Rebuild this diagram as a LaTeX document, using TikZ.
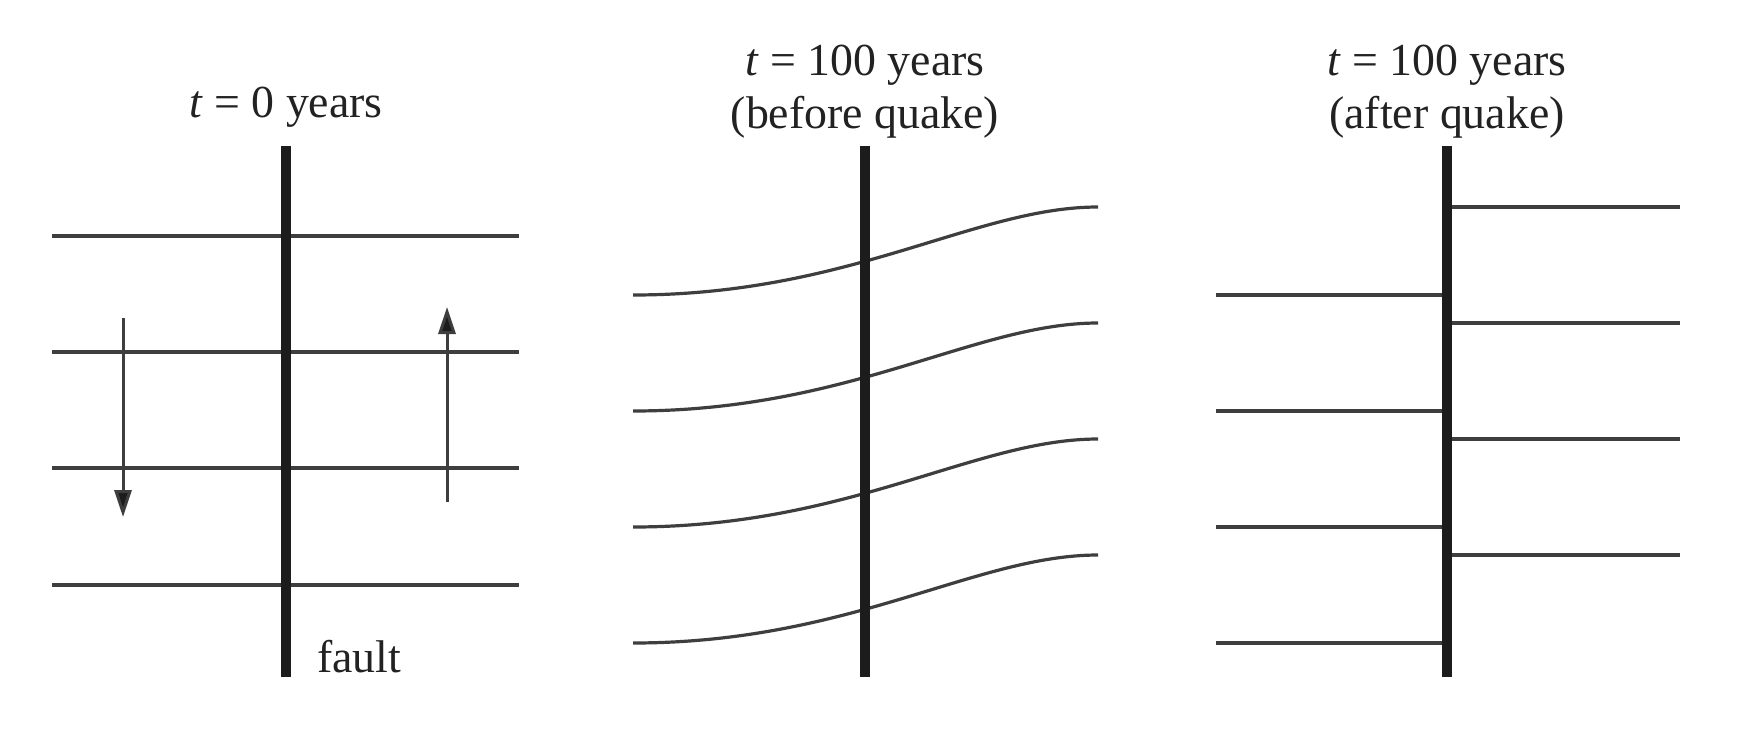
\documentclass[tikz,border=0pt]{standalone}
\usepackage{fontspec}
\setmainfont{Liberation Serif}
\usetikzlibrary{arrows.meta}
\definecolor{linegray}{RGB}{62,62,62}
\definecolor{faultblack}{RGB}{28,28,28}
\definecolor{textgray}{RGB}{34,34,34}
\begin{document}
\begin{tikzpicture}[x=1bp,y=-1bp,
  layer/.style={line width=3.2bp, draw=linegray},
  faultline/.style={line width=10bp, draw=faultblack},
  motion/.style={line width=3bp, draw=linegray, -{Triangle[length=27bp,width=17bp,fill=faultblack]}},
  lbl/.style={font=\fontsize{46}{52}\selectfont, text=textgray, inner sep=0pt, anchor=base}]
\useasboundingbox[fill=white] (0,0) rectangle (1760,748);

% ---------- panel 1 ----------
\foreach \y in {236,352,468,585}{
  \draw[layer] (52,\y) -- (519,\y);
}
\coordinate (d1) at (123,318);
\coordinate (d2) at (123,517);
\coordinate (u1) at (447,502);
\coordinate (u2) at (447,307);
\draw[motion] (d1) -- (d2);
\draw[motion] (u1) -- (u2);
\coordinate (f1t) at (286,146);
\coordinate (f1b) at (286,677);
\draw[faultline] (f1t) -- (f1b);
\node[lbl] (t1) at (286,117) {\textit{t} = 0 years};
\node[lbl, anchor=base west] (flt) at (317,672) {fault};

% ---------- panel 2 ----------
\foreach \d in {0,116,232,348}{
  \begin{scope}[shift={(0,\d)}]
    \draw[layer] (633,295) .. controls (850,295) and (975,207) .. (1098,207);
  \end{scope}
}
\coordinate (f2t) at (865,146);
\coordinate (f2b) at (865,677);
\draw[faultline] (f2t) -- (f2b);
\node[lbl] (t2a) at (865,76) {\textit{t} = 100 years};
\node[lbl] (t2b) at (865,128) {(before quake)};

% ---------- panel 3 ----------
\foreach \d in {0,116,232,348}{
  \draw[layer] (1216,295+\d) -- (1447,295+\d);
  \draw[layer] (1447,207+\d) -- (1680,207+\d);
}
\coordinate (f3t) at (1447,146);
\coordinate (f3b) at (1447,677);
\draw[faultline] (f3t) -- (f3b);
\node[lbl] (t3a) at (1447,76) {\textit{t} = 100 years};
\node[lbl] (t3b) at (1447,128) {(after quake)};
\end{tikzpicture}
\end{document}
